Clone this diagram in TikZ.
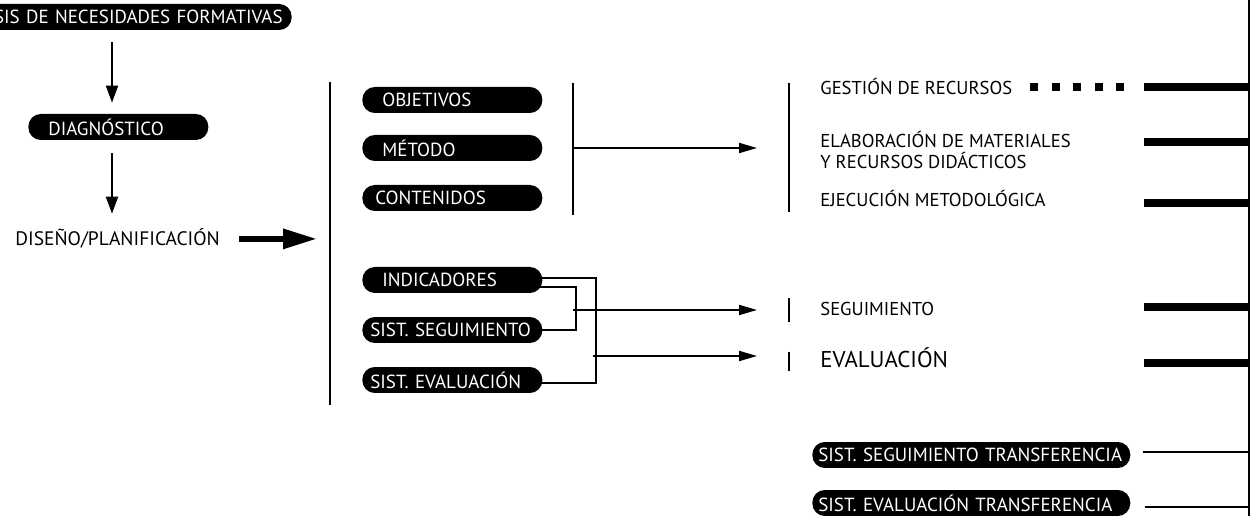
\documentclass[tikz,border=0pt]{standalone}
\usepackage{fontspec}
\setmainfont{PT Sans}
\usetikzlibrary{arrows.meta}

\tikzset{
  pill/.style={fill=black,text=white,rounded corners=0.25cm,minimum height=0.52cm,inner ysep=0pt,font=\fontsize{10.8}{12}\selectfont},
  lpill/.style={pill,anchor=west,align=left,inner xsep=0.4cm,text width=2.8cm},
  spill/.style={lpill,inner xsep=0.16cm,text width=3.28cm},
  tpill/.style={pill,anchor=west,align=left,inner xsep=0.12cm,text width=6.12cm},
  lbl/.style={anchor=base west,inner sep=0pt,font=\fontsize{10.6}{11.6}\selectfont},
  conn/.style={line width=1.1pt},
  arr/.style={conn,-{Triangle[length=0.36cm,width=0.2cm]}},
  darr/.style={conn,-{Triangle[length=0.34cm,width=0.24cm]}},
  bigarr/.style={line width=0.12cm,-{Triangle[length=0.68cm,width=0.38cm]}},
  bar/.style={line width=0.16cm},
  tline/.style={line width=1.6pt},
}

\begin{document}
\begin{tikzpicture}[x=0.02cm,y=-0.02cm]
\useasboundingbox (0,0) rectangle (1250,516);

% left column
\coordinate (axis) at (112,0);
\node[pill,anchor=east,align=right,text width=6.4cm,inner xsep=0.18cm] (ana) at (292,17) {SIS DE NECESIDADES FORMATIVAS};
\node[lpill] (diag) at (28,127) {DIAGNÓSTICO};
\node[lbl,font=\fontsize{11.1}{13}\selectfont] (dis) at (15,246) {DISEÑO/PLANIFICACIÓN};
\draw[darr,shorten <=0.24cm,shorten >=0.22cm] (ana.south -| axis) -- (diag.north -| axis);
\draw[darr,shorten <=0.26cm,shorten >=0.3cm] (diag.south -| axis) -- (dis.north -| axis);

% design block
\coordinate (v1t) at (330,82);
\coordinate (v1b) at (330,405);
\draw[conn] (v1t) -- (v1b);
\draw[bigarr,shorten <=0.38cm,shorten >=0.26cm] (dis.east) -- (dis.east -| v1t);

\node[lpill] (obj) at (362,100) {OBJETIVOS};
\node[lpill] (met) at (362,148) {MÉTODO};
\node[spill,inner xsep=0.26cm,text width=3.08cm] (con) at (362,198) {CONTENIDOS};
\node[lpill] (ind) at (362,280) {INDICADORES};
\node[spill] (sse) at (362,330) {SIST. SEGUIMIENTO};
\node[spill] (sev) at (362,380) {SIST. EVALUACIÓN};

\coordinate (v2t) at (573,83);
\coordinate (v2b) at (573,215);
\draw[conn] (v2t) -- (v2b);

\draw[conn] ([xshift=-0.1cm,yshift=0.04cm]ind.east) -| ([xshift=1.06cm,yshift=-0.06cm]sev.east) -- ([xshift=-0.1cm,yshift=-0.06cm]sev.east);
\draw[conn] ([xshift=-0.1cm,yshift=-0.14cm]ind.east) -| ([xshift=0.66cm]sse.east) -- ([xshift=-0.1cm]sse.east);
\coordinate (m1) at (573,310);
\coordinate (m2) at (593,356);

% right column
\coordinate (v3t) at (789,83);
\coordinate (v3b) at (789,212);
\draw[conn] (v3t) -- (v3b);
\coordinate (ts) at (789,310);
\coordinate (te) at (789,361);
\draw[conn] (789,298) -- (789,322);
\draw[conn] (789,352) -- (789,371);

\draw[arr,shorten >=0.64cm] (met -| v2t) -- (met -| v3t);
\draw[arr,shorten >=0.64cm] (m1) -- (ts);
\draw[arr,shorten >=0.64cm] (m2) -- (m2 -| te);

\node[lbl] (ges) at (820,95) {GESTIÓN DE RECURSOS};
\node[lbl,anchor=west,align=left] (ela) at (820,150) {ELABORACIÓN DE MATERIALES\\Y RECURSOS DIDÁCTICOS};
\node[lbl] (eje) at (820,207) {EJECUCIÓN METODOLÓGICA};
\node[lbl] (seg) at (820,316) {SEGUIMIENTO};
\node[lbl,font=\fontsize{13}{14}\selectfont] (eva) at (820,368) {EVALUACIÓN};

\node[tpill] (sst) at (812,455) {SIST. SEGUIMIENTO TRANSFERENCIA};
\node[tpill] (set) at (812,503) {SIST. EVALUACIÓN TRANSFERENCIA};

% right edge and bars
\coordinate (redge) at (1249,0);
\draw[line width=0.6pt] (redge) -- (1249,516);
\coordinate (b1) at (1144,87);
\coordinate (b2) at (1144,142);
\coordinate (b3) at (1144,203);
\coordinate (b4) at (1144,307);
\coordinate (b5) at (1144,363);
\foreach \b in {b1,b2,b3,b4,b5}
  \draw[bar] (\b) -- (\b -| redge);
\draw[bar,dash pattern=on 0.16cm off 0.27cm,shorten >=0.4cm] (1030,87) -- (b1);
\draw[tline] ([xshift=0.24cm,yshift=0.06cm]sst.east) -- ([yshift=0.06cm]sst.east -| redge);
\draw[tline] ([xshift=0.28cm,yshift=-0.08cm]set.east) -- ([yshift=-0.08cm]set.east -| redge);
\end{tikzpicture}
\end{document}
